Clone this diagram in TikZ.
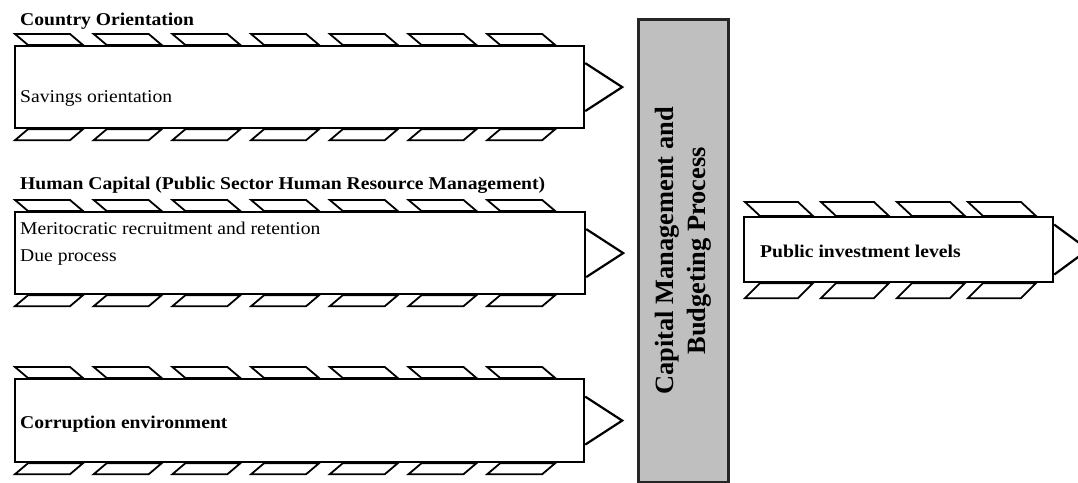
\documentclass[tikz,border=0pt]{standalone}
\usepackage{fontspec}
\setmainfont{Liberation Serif}
\newfontfamily\widefont{Liberation Serif}[FakeStretch=1.09]
\begin{document}
\begin{tikzpicture}[x=1pt,y=-1pt,
  box/.style={draw, line width=2.2pt, fill=white, inner sep=0pt, anchor=north west},
  fin/.style={draw, line width=1.8pt, line join=miter},
  chevron/.style={draw, line width=2.2pt, line join=miter},
  hub/.style={draw=black!85, line width=2.6pt, fill=black!25, inner sep=0pt, anchor=north west},
  title/.style={anchor=base west, inner sep=0pt, font=\widefont\fontsize{18}{22}\selectfont\bfseries},
  item/.style={anchor=base west, inner sep=0pt, font=\widefont\fontsize{18}{22}\selectfont},
  hubtext/.style={rotate=90, align=center, inner sep=0pt, font=\fontsize{26.4}{32}\selectfont\bfseries}]
\useasboundingbox (0,0) rectangle (1078,482);

% factor boxes
\node[box, minimum width=569pt, minimum height=82pt] (b1) at (14,45) {};
\node[box, minimum width=570pt, minimum height=82pt] (b2) at (14,211) {};
\node[box, minimum width=569pt, minimum height=83pt] (b3) at (14,378) {};
% outcome box
\node[box, minimum width=309pt, minimum height=65pt] (out) at (743,216) {};
% central process bar
\node[hub, minimum width=90pt, minimum height=463pt] (hub) at (637,18) {};
\node[hubtext] (hubt) at (hub.center) {Capital Management and\\Budgeting Process};

% fins above and below each factor box
\foreach \b in {b1,b2,b3}{
  \foreach \i in {0,...,6}{
    \pgfmathsetmacro{\dx}{1+78.7*\i}
    \begin{scope}[shift={(\b.north west)}]
      \draw[fin] (\dx,-11) -- ++(55,0) -- ++(13,11) -- ++(-55,0) -- cycle;
    \end{scope}
    \begin{scope}[shift={(\b.south west)}]
      \draw[fin] (\dx,11) -- ++(55,0) -- ++(13,-11) -- ++(-55,0) -- cycle;
    \end{scope}
  }
  % chevron on the right side
  \draw[chevron] ([yshift=24pt]\b.east) -- ++(37,24) -- ++(-37,24);
}

% fins of the outcome box
\foreach \dx in {2,78,154,225}{
  \begin{scope}[shift={(out.north west)}]
    \draw[fin] (\dx,-14) -- ++(53,0) -- ++(15,14) -- ++(-53,0) -- cycle;
  \end{scope}
  \begin{scope}[shift={(out.south west)}]
    \draw[fin] (\dx,15) -- ++(53,0) -- ++(15,-15) -- ++(-53,0) -- cycle;
  \end{scope}
}
\draw[chevron] ([yshift=25pt]out.east) -- ++(34,25) -- ++(-34,25);

% headings and contents
\node[title] (t1) at (20,25) {Country Orientation};
\node[item] (s1) at (20,102) {Savings orientation};
\node[title] (t2) at (20,189) {Human Capital (Public Sector Human Resource Management)};
\node[item] (s2a) at (20,234) {Meritocratic recruitment and retention};
\node[item] (s2b) at (20,261) {Due process};
\node[title] (s3) at (20,428) {Corruption environment};
\node[title] (s4) at (760,257) {Public investment levels};
\end{tikzpicture}
\end{document}
